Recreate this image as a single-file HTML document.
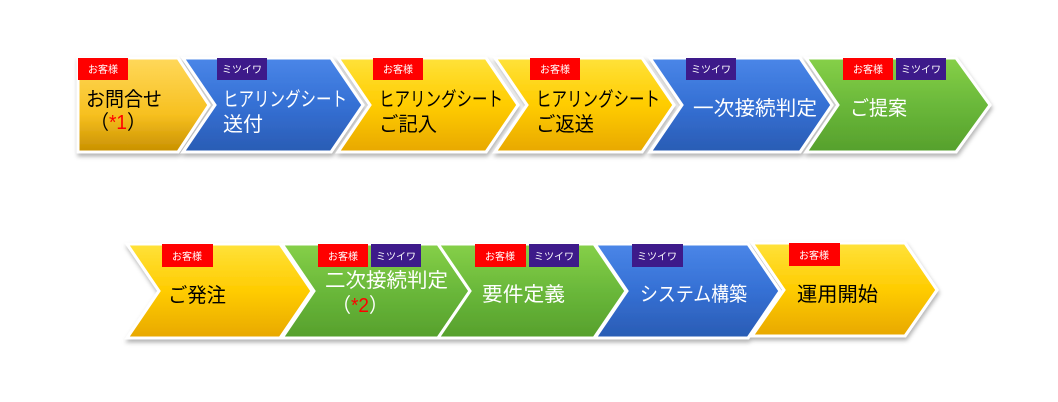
<!DOCTYPE html>
<html><head><meta charset="utf-8"><style>
html,body{margin:0;padding:0;background:#fff;width:1058px;height:402px;overflow:hidden}
text{font-family:"Liberation Sans","Noto Sans CJK JP",sans-serif}
</style></head><body>
<svg width="1058" height="402" viewBox="0 0 1058 402" xmlns="http://www.w3.org/2000/svg">
<defs>
<linearGradient id="y" x1="0" y1="0" x2="0" y2="1"><stop offset="0" stop-color="#ffe23a"/><stop offset="0.5" stop-color="#ffcc00"/><stop offset="1" stop-color="#e8a800"/></linearGradient>
<linearGradient id="y1" x1="0" y1="0" x2="0" y2="1"><stop offset="0" stop-color="#ffd85a"/><stop offset="0.6" stop-color="#f7c020"/><stop offset="1" stop-color="#c89000"/></linearGradient>
<linearGradient id="b" x1="0" y1="0" x2="0" y2="1"><stop offset="0" stop-color="#4a86e8"/><stop offset="0.5" stop-color="#3570d4"/><stop offset="1" stop-color="#2a5cb4"/></linearGradient>
<linearGradient id="g" x1="0" y1="0" x2="0" y2="1"><stop offset="0" stop-color="#86d048"/><stop offset="0.5" stop-color="#6ab83a"/><stop offset="1" stop-color="#56a02c"/></linearGradient>
<filter id="s" x="-5%" y="-5%" width="115%" height="120%"><feDropShadow dx="1" dy="3" stdDeviation="2" flood-color="#000" flood-opacity="0.3"/></filter>
</defs>
<g filter="url(#s)" stroke="#fff" stroke-width="3" stroke-linejoin="miter">
<polygon points="78,58 178,58 209,105 178,152 78,152" fill="url(#y1)"/>
<polygon points="183,58 331,58 363,105 331,152 183,152 215,105" fill="url(#b)"/>
<polygon points="338,58 486,58 518,105 486,152 338,152 370,105" fill="url(#y)"/>
<polygon points="495,58 642,58 674,105 642,152 495,152 527,105" fill="url(#y)"/>
<polygon points="650,58 800,58 832,105 800,152 650,152 682,105" fill="url(#b)"/>
<polygon points="806,58 956,58 990,105 956,152 806,152 838,105" fill="url(#g)"/>
<polygon points="127,244 280,244 312,291 280,338 127,338 159,291" fill="url(#y)"/>
<polygon points="282,244 438,244 470,291 438,338 282,338 314,291" fill="url(#g)"/>
<polygon points="438,244 594,244 626,291 594,338 438,338 470,291" fill="url(#g)"/>
<polygon points="595,244 748,244 780,291 748,338 595,338 627,291" fill="url(#b)"/>
<polygon points="752,243 905,243 937,290 905,336 752,336 784,290" fill="url(#y)"/>
</g>
<g font-size="10" fill="#fff" text-anchor="middle">
<rect x="78" y="58" width="50" height="22" fill="#ff0000"/><text x="103" y="73">お客様</text>
<rect x="217" y="58" width="50" height="22" fill="#3d1a8a"/><text x="242" y="73">ミツイワ</text>
<rect x="373" y="58" width="50" height="22" fill="#ff0000"/><text x="398" y="73">お客様</text>
<rect x="530" y="58" width="50" height="22" fill="#ff0000"/><text x="555" y="73">お客様</text>
<rect x="686" y="58" width="50" height="22" fill="#3d1a8a"/><text x="711" y="73">ミツイワ</text>
<rect x="843" y="58" width="50" height="22" fill="#ff0000"/><text x="868" y="73">お客様</text>
<rect x="896" y="58" width="50" height="22" fill="#3d1a8a"/><text x="921" y="73">ミツイワ</text>
<rect x="162" y="244" width="51" height="23" fill="#ff0000"/><text x="187" y="260">お客様</text>
<rect x="318" y="244" width="50" height="23" fill="#ff0000"/><text x="343" y="260">お客様</text>
<rect x="371" y="244" width="50" height="23" fill="#3d1a8a"/><text x="396" y="260">ミツイワ</text>
<rect x="475" y="244" width="51" height="23" fill="#ff0000"/><text x="500" y="260">お客様</text>
<rect x="529" y="244" width="50" height="23" fill="#3d1a8a"/><text x="554" y="260">ミツイワ</text>
<rect x="632" y="244" width="51" height="23" fill="#3d1a8a"/><text x="657" y="260">ミツイワ</text>
<rect x="789" y="243" width="51" height="23" fill="#ff0000"/><text x="814" y="259">お客様</text>
</g>
<g font-size="20" lengthAdjust="spacingAndGlyphs">
<text x="86" y="106" fill="#000" textLength="76" lengthAdjust="spacingAndGlyphs">お問合せ</text>
<text x="90" y="129" fill="#000" textLength="56" lengthAdjust="spacingAndGlyphs">（<tspan fill="#ff0000">*1</tspan>）</text>
<text x="223" y="106" fill="#fff" textLength="124" lengthAdjust="spacingAndGlyphs">ヒアリングシート</text>
<text x="223" y="131" fill="#fff" textLength="40" lengthAdjust="spacingAndGlyphs">送付</text>
<text x="379" y="106" fill="#000" textLength="124" lengthAdjust="spacingAndGlyphs">ヒアリングシート</text>
<text x="379" y="131" fill="#000" textLength="58" lengthAdjust="spacingAndGlyphs">ご記入</text>
<text x="536" y="106" fill="#000" textLength="124" lengthAdjust="spacingAndGlyphs">ヒアリングシート</text>
<text x="536" y="131" fill="#000" textLength="58" lengthAdjust="spacingAndGlyphs">ご返送</text>
<text x="693" y="115" fill="#fff" textLength="124" lengthAdjust="spacingAndGlyphs">一次接続判定</text>
<text x="850" y="115" fill="#fff" textLength="57" lengthAdjust="spacingAndGlyphs">ご提案</text>
<text x="168" y="302" fill="#000" textLength="58" lengthAdjust="spacingAndGlyphs">ご発注</text>
<text x="325" y="287" fill="#fff" textLength="123" lengthAdjust="spacingAndGlyphs">二次接続判定</text>
<text x="332" y="312" fill="#fff" textLength="56" lengthAdjust="spacingAndGlyphs">（<tspan fill="#ff0000">*2</tspan>）</text>
<text x="482" y="301" fill="#fff" textLength="83" lengthAdjust="spacingAndGlyphs">要件定義</text>
<text x="640" y="301" fill="#fff" textLength="107" lengthAdjust="spacingAndGlyphs">システム構築</text>
<text x="797" y="301" fill="#000" textLength="81" lengthAdjust="spacingAndGlyphs">運用開始</text>
</g>
</svg>
</body></html>
